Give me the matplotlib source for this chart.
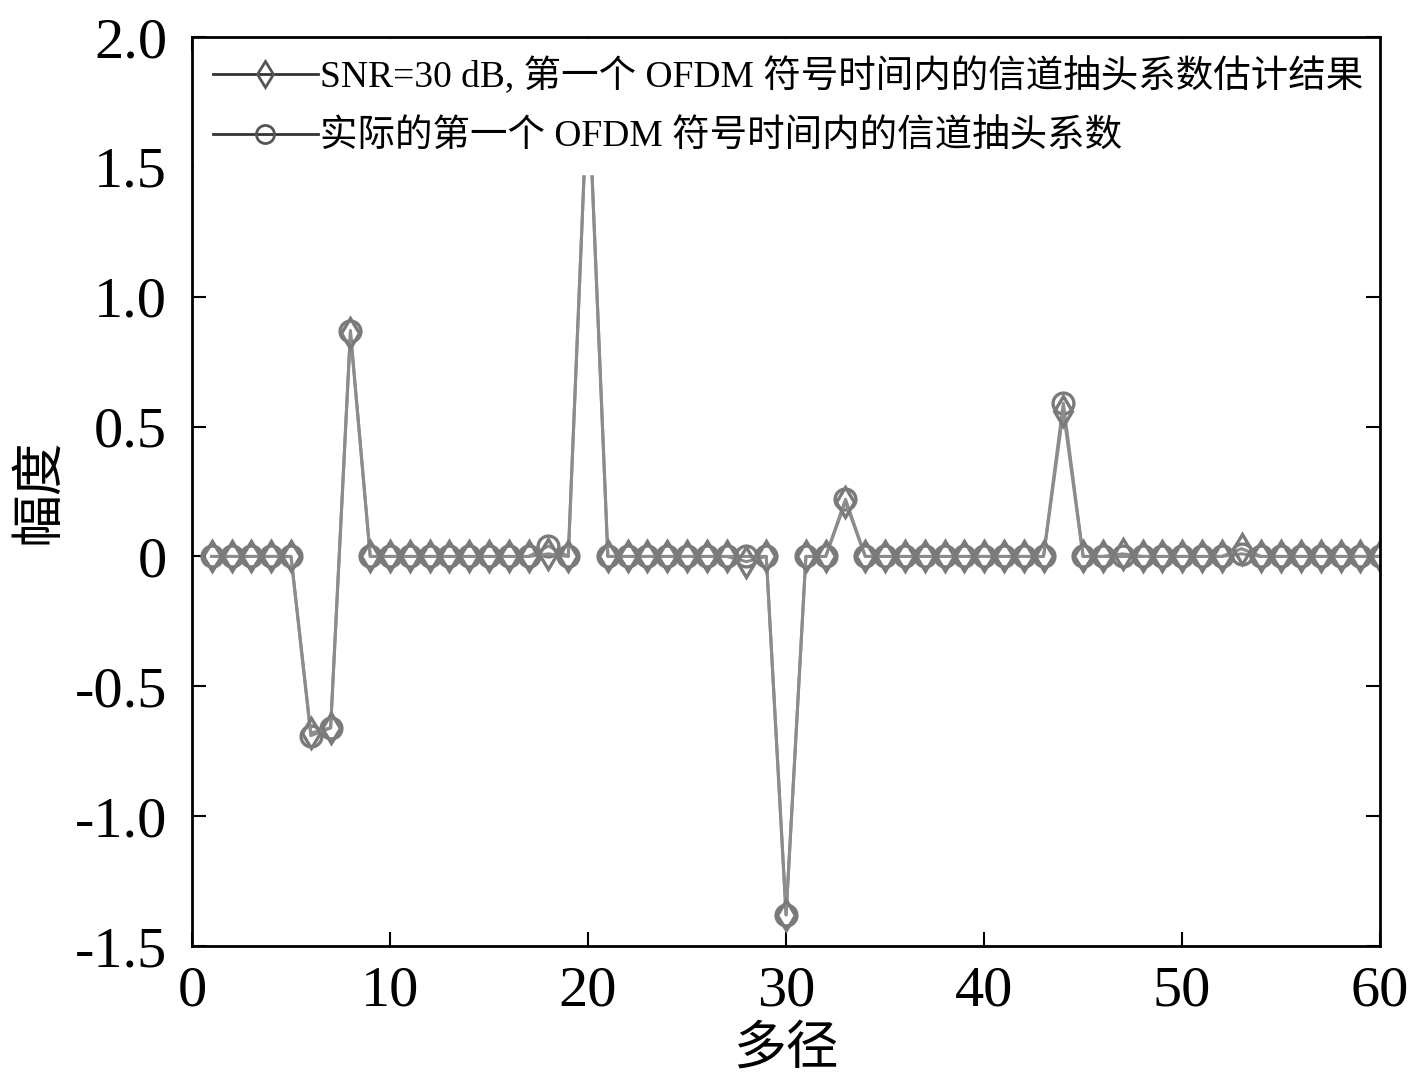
import matplotlib
matplotlib.use("Agg")
import matplotlib.pyplot as plt
from matplotlib.lines import Line2D
import numpy as np

# ---- data ----
paths = list(range(1, 61))
est_nonzero = {6: -0.68, 7: -0.66, 8: 0.86, 18: 0.01, 20: 1.84, 28: -0.02,
               30: -1.38, 33: 0.21, 44: 0.56, 47: 0.01, 53: 0.03}
act_nonzero = {6: -0.69, 7: -0.66, 8: 0.87, 18: 0.04, 20: 1.84, 28: 0.0,
               30: -1.38, 33: 0.22, 44: 0.59, 47: 0.0, 53: 0.01}
estimate = [est_nonzero.get(p, 0.0) for p in paths]
actual = [act_nonzero.get(p, 0.0) for p in paths]
xticks = [0, 10, 20, 30, 40, 50, 60]
yticks = [-1.5, -1.0, -0.5, 0, 0.5, 1.0, 1.5, 2.0]
ytick_labels = ["-1.5", "-1.0", "-0.5", "0", "0.5", "1.0", "1.5", "2.0"]
label_est = "SNR=30 dB, 第一个 OFDM 符号时间内的信道抽头系数估计结果"
label_act = "实际的第一个 OFDM 符号时间内的信道抽头系数"

serif = ["Liberation Serif", "Noto Sans CJK SC", "DejaVu Sans"]
cjk = ["Noto Sans CJK SC", "Liberation Serif", "DejaVu Sans"]

fig = plt.figure(figsize=(14.17, 10.83), dpi=100)
ax = fig.add_axes([0.1355, 0.1265, 0.8385, 0.8393])

gray = "#8c8c8c"
mgray = "#7a7a7a"
ax.plot(paths, actual, color=gray, lw=2.2, marker="o", markersize=15,
        markerfacecolor="none", markeredgecolor=mgray, markeredgewidth=2.4)
ax.plot(paths, estimate, color=gray, lw=2.2, marker="d", markersize=15,
        markerfacecolor="none", markeredgecolor=mgray, markeredgewidth=2.4)

ax.set_xlim(0, 60)
ax.set_ylim(-1.5, 2.0)
ax.set_xticks(xticks)
ax.set_xticklabels([str(t) for t in xticks], family=serif, fontsize=42)
ax.set_yticks(yticks)
ax.set_yticklabels(ytick_labels, family=serif, fontsize=42)
ax.tick_params(direction="in", length=10, width=1.5, top=True, right=True)
ax.tick_params(axis="x", pad=14)
ax.tick_params(axis="y", pad=18)
for s in ax.spines.values():
    s.set_linewidth(2)

ax.set_xlabel("多径", family=cjk, fontsize=38, labelpad=2)
ax.set_ylabel("幅度", family=cjk, fontsize=38)
ax.yaxis.set_label_coords(-0.107, 0.5)

handles = [
    Line2D([], [], color="#333333", lw=2, marker="d", markersize=13,
           markerfacecolor="none", markeredgecolor="#555555", markeredgewidth=2),
    Line2D([], [], color="#333333", lw=2, marker="o", markersize=13,
           markerfacecolor="none", markeredgecolor="#555555", markeredgewidth=2),
]
leg = ax.legend(handles, [label_est, label_act], loc="upper left",
                prop={"family": serif, "size": 27}, frameon=True,
                fancybox=False, edgecolor="white", framealpha=1,
                handlelength=2.8, handletextpad=0.05, borderaxespad=0.05,
                borderpad=0.5, labelspacing=0.65)
leg.set_zorder(2.2)

fig.savefig("out.png", dpi=100)
